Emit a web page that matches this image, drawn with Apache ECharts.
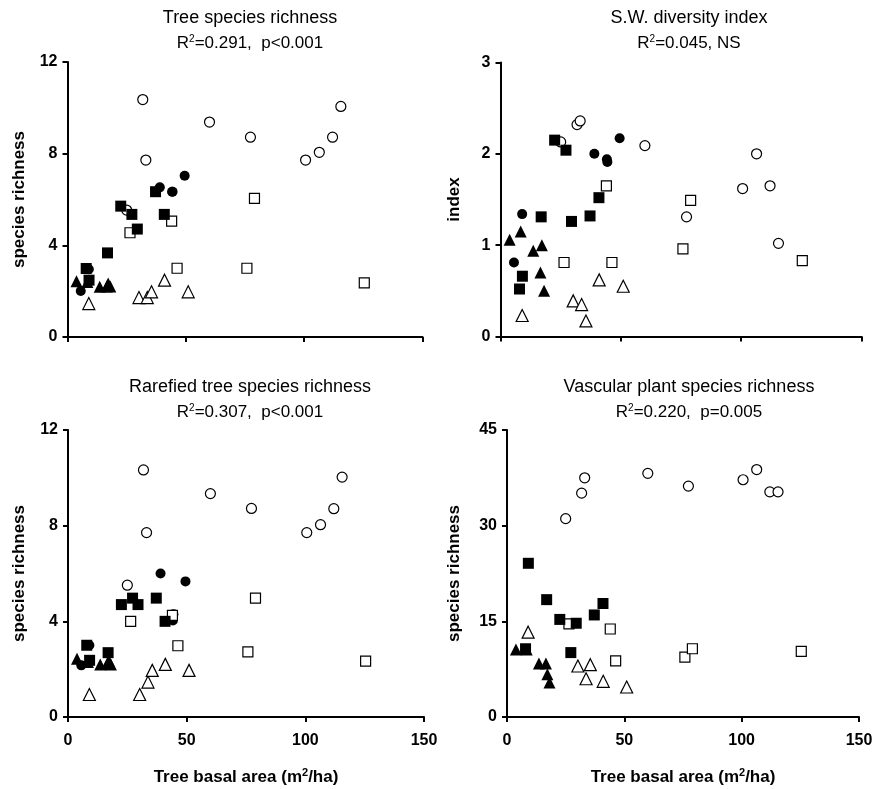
<!DOCTYPE html>
<html>
<head>
<meta charset="utf-8">
<title>Tree basal area scatter panels</title>
<script src="https://cdn.jsdelivr.net/npm/echarts@6/dist/echarts.min.js"></script>
<style>
  html, body { margin: 0; padding: 0; background: #fff; }
  #chart { width: 876px; height: 789px; }
</style>
</head>
<body>
<div id="chart"></div>
<script>
// tree basal area (m2/ha) for each plot group, shared by all four panels
var xOpenCircle = [25, 31.8, 33.1, 60, 77.3, 100.6, 106.4, 112, 115.5];
var xOpenSquare = [26.4, 44, 46.3, 75.8, 79, 125.4];
var xOpenTriangle = [9, 30.2, 33.7, 35.5, 41, 51];
var xFilledCircle = [5.6, 9, 39, 44.2, 44.4, 49.5];
var xFilledSquare = [7.9, 9.1, 16.9, 22.5, 27.2, 29.5, 37.2, 40.9];
var xFilledTriangle = [3.8, 8.4, 13.6, 16.6, 17.2, 18.1];

// Tree species richness
var treeOpenCircle = [5.54, 10.36, 7.72, 9.38, 8.72, 7.72, 8.06, 8.72, 10.06];
var treeOpenSquare = [4.55, 5.06, 3.0, 3.0, 6.05, 2.36];
var treeOpenTriangle = [1.46, 1.72, 1.72, 1.97, 2.48, 1.97];
var treeFilledCircle = [2.01, 2.96, 6.53, 6.34, 6.34, 7.04];
var treeFilledSquare = [2.99, 2.48, 3.67, 5.71, 5.35, 4.71, 6.34, 5.35];
var treeFilledTriangle = [2.43, 2.4, 2.19, 2.2, 2.33, 2.2];

// S.W. diversity index
var swOpenCircle = [2.13, 2.32, 2.36, 2.09, 1.31, 1.62, 2.0, 1.65, 1.02];
var swOpenSquare = [0.81, 1.65, 0.81, 0.96, 1.49, 0.83];
var swOpenTriangle = [0.23, 0.39, 0.35, 0.17, 0.62, 0.55];
var swFilledCircle = [0.81, 1.34, 2.0, 1.94, 1.91, 2.17];
var swFilledSquare = [0.52, 0.66, 1.31, 2.15, 2.04, 1.26, 1.32, 1.52];
var swFilledTriangle = [1.06, 1.15, 0.94, 0.70, 1.0, 0.50];

// Rarefied tree species richness
var rareOpenCircle = [5.51, 10.33, 7.71, 9.34, 8.72, 7.71, 8.04, 8.71, 10.03];
var rareOpenSquare = [4.0, 4.25, 2.98, 2.72, 4.97, 2.34];
var rareOpenTriangle = [0.94, 0.94, 1.46, 1.95, 2.2, 1.95];
var rareFilledCircle = [2.16, 3.0, 6.0, 4.04, 4.3, 5.67];
var rareFilledSquare = [3.0, 2.37, 2.69, 4.7, 4.97, 4.7, 4.97, 4.0];
var rareFilledTriangle = [2.44, 2.3, 2.2, 2.25, 2.35, 2.2];

// Vascular plant species richness (no filled-circle plots)
var vascOpenCircle = [31.1, 35.1, 37.5, 38.2, 36.2, 37.2, 38.8, 35.3, 35.3];
var vascOpenSquare = [14.6, 13.8, 8.8, 9.4, 10.7, 10.3];
var vascOpenTriangle = [13.3, 8.0, 6.0, 8.2, 5.6, 4.7];
var vascFilledCircle = [];
var vascFilledSquare = [10.7, 24.1, 18.4, 15.3, 10.1, 14.7, 16.0, 17.8];
var vascFilledTriangle = [10.6, 10.6, 8.4, 8.4, 6.7, 5.4];

var xTicks = [0, 50, 100, 150];

var chart = echarts.init(document.getElementById('chart'));

var labelFont = "'Liberation Sans Narrow', 'Liberation Sans', Arial, sans-serif";
var titleFont = "'Liberation Sans', Arial, sans-serif";
var supRich = {
  sup: { fontSize: 10, padding: [0, 0, 9, 0], fontFamily: titleFont, color: '#000' }
};
var supRichBold = {
  sup: { fontSize: 11, fontWeight: 'bold', padding: [0, 0, 10, 0], fontFamily: labelFont, color: '#000' }
};

function pairs(xs, ys) {
  return ys.map(function (y, i) { return [xs[i], y]; });
}

function panelSeries(idx, g) {
  var groups = [
    { x: xOpenCircle, y: g.openCircle, symbol: 'circle', size: 10, filled: false },
    { x: xFilledCircle, y: g.filledCircle, symbol: 'circle', size: 10, filled: true },
    { x: xOpenSquare, y: g.openSquare, symbol: 'rect', size: 10, filled: false },
    { x: xFilledSquare, y: g.filledSquare, symbol: 'rect', size: 11, filled: true },
    { x: xFilledTriangle, y: g.filledTriangle, symbol: 'triangle', size: 12, filled: true },
    { x: xOpenTriangle, y: g.openTriangle, symbol: 'triangle', size: 12, filled: false }
  ];
  return groups.map(function (s) {
    return {
      type: 'scatter',
      xAxisIndex: idx,
      yAxisIndex: idx,
      symbol: s.symbol,
      symbolSize: s.size,
      data: pairs(s.x, s.y),
      itemStyle: s.filled
        ? { color: '#000', borderColor: '#000', borderWidth: 0, opacity: 1 }
        : { color: '#fff', borderColor: '#000', borderWidth: 1.2, opacity: 1 },
      silent: true,
      animation: false
    };
  });
}

var grids = [
  { left: 67.5, top: 62, width: 355, height: 275 },
  { left: 500.5, top: 62.5, width: 361, height: 274 },
  { left: 68, top: 430, width: 356, height: 287 },
  { left: 507, top: 430, width: 352, height: 287 }
];

var panels = [
  { title: 'Tree species richness', stat: 'R{sup|2}=0.291,  p<0.001', yName: 'species richness', yMax: 12, yStep: 4, showX: false,
    openCircle: treeOpenCircle, openSquare: treeOpenSquare, openTriangle: treeOpenTriangle,
    filledCircle: treeFilledCircle, filledSquare: treeFilledSquare, filledTriangle: treeFilledTriangle },
  { title: 'S.W. diversity index', stat: 'R{sup|2}=0.045, NS', yName: 'index', yMax: 3, yStep: 1, showX: false,
    openCircle: swOpenCircle, openSquare: swOpenSquare, openTriangle: swOpenTriangle,
    filledCircle: swFilledCircle, filledSquare: swFilledSquare, filledTriangle: swFilledTriangle },
  { title: 'Rarefied tree species richness', stat: 'R{sup|2}=0.307,  p<0.001', yName: 'species richness', yMax: 12, yStep: 4, showX: true,
    openCircle: rareOpenCircle, openSquare: rareOpenSquare, openTriangle: rareOpenTriangle,
    filledCircle: rareFilledCircle, filledSquare: rareFilledSquare, filledTriangle: rareFilledTriangle },
  { title: 'Vascular plant species richness', stat: 'R{sup|2}=0.220,  p=0.005', yName: 'species richness', yMax: 45, yStep: 15, showX: true,
    openCircle: vascOpenCircle, openSquare: vascOpenSquare, openTriangle: vascOpenTriangle,
    filledCircle: vascFilledCircle, filledSquare: vascFilledSquare, filledTriangle: vascFilledTriangle }
];

var titleCenters = [
  [245, 4], [684, 4], [245, 373], [684, 373]
];

var axisLine = { show: true, onZero: false, lineStyle: { color: '#000', width: 2 } };
var axisTick = { show: true, inside: false, length: 5, lineStyle: { color: '#000', width: 2 } };

var option = {
  backgroundColor: '#fff',
  animation: false,
  title: [],
  grid: grids,
  xAxis: [],
  yAxis: [],
  series: []
};

panels.forEach(function (p, i) {
  option.title.push({
    text: p.title,
    subtext: p.stat,
    left: titleCenters[i][0],
    top: titleCenters[i][1],
    textAlign: 'center',
    itemGap: 7,
    textStyle: { fontFamily: titleFont, fontSize: 18, fontWeight: 'normal', color: '#000' },
    subtextStyle: { fontFamily: titleFont, fontSize: 17, color: '#000', rich: supRich }
  });
  option.xAxis.push({
    type: 'value',
    gridIndex: i,
    min: xTicks[0],
    max: xTicks[xTicks.length - 1],
    interval: xTicks[1] - xTicks[0],
    name: p.showX ? 'Tree basal area (m{sup|2}/ha)' : '',
    nameLocation: 'middle',
    nameGap: 50,
    nameTextStyle: { fontFamily: labelFont, fontSize: 17, fontWeight: 'bold', color: '#000', rich: supRichBold },
    axisLine: axisLine,
    axisTick: axisTick,
    splitLine: { show: false },
    axisLabel: { show: p.showX, margin: 16, fontFamily: labelFont, fontSize: 16, fontWeight: 'bold', color: '#000' }
  });
  option.yAxis.push({
    type: 'value',
    gridIndex: i,
    min: 0,
    max: p.yMax,
    interval: p.yStep,
    name: p.yName,
    nameLocation: 'middle',
    nameGap: i === 3 ? 44 : (i === 1 ? 38 : 40),
    nameTextStyle: { fontFamily: labelFont, fontSize: 17, fontWeight: 'bold', color: '#000' },
    axisLine: axisLine,
    axisTick: axisTick,
    splitLine: { show: false },
    axisLabel: { margin: 10, fontFamily: labelFont, fontSize: 16, fontWeight: 'bold', color: '#000' }
  });
  option.series = option.series.concat(panelSeries(i, p));
});

chart.setOption(option);
</script>
</body>
</html>
